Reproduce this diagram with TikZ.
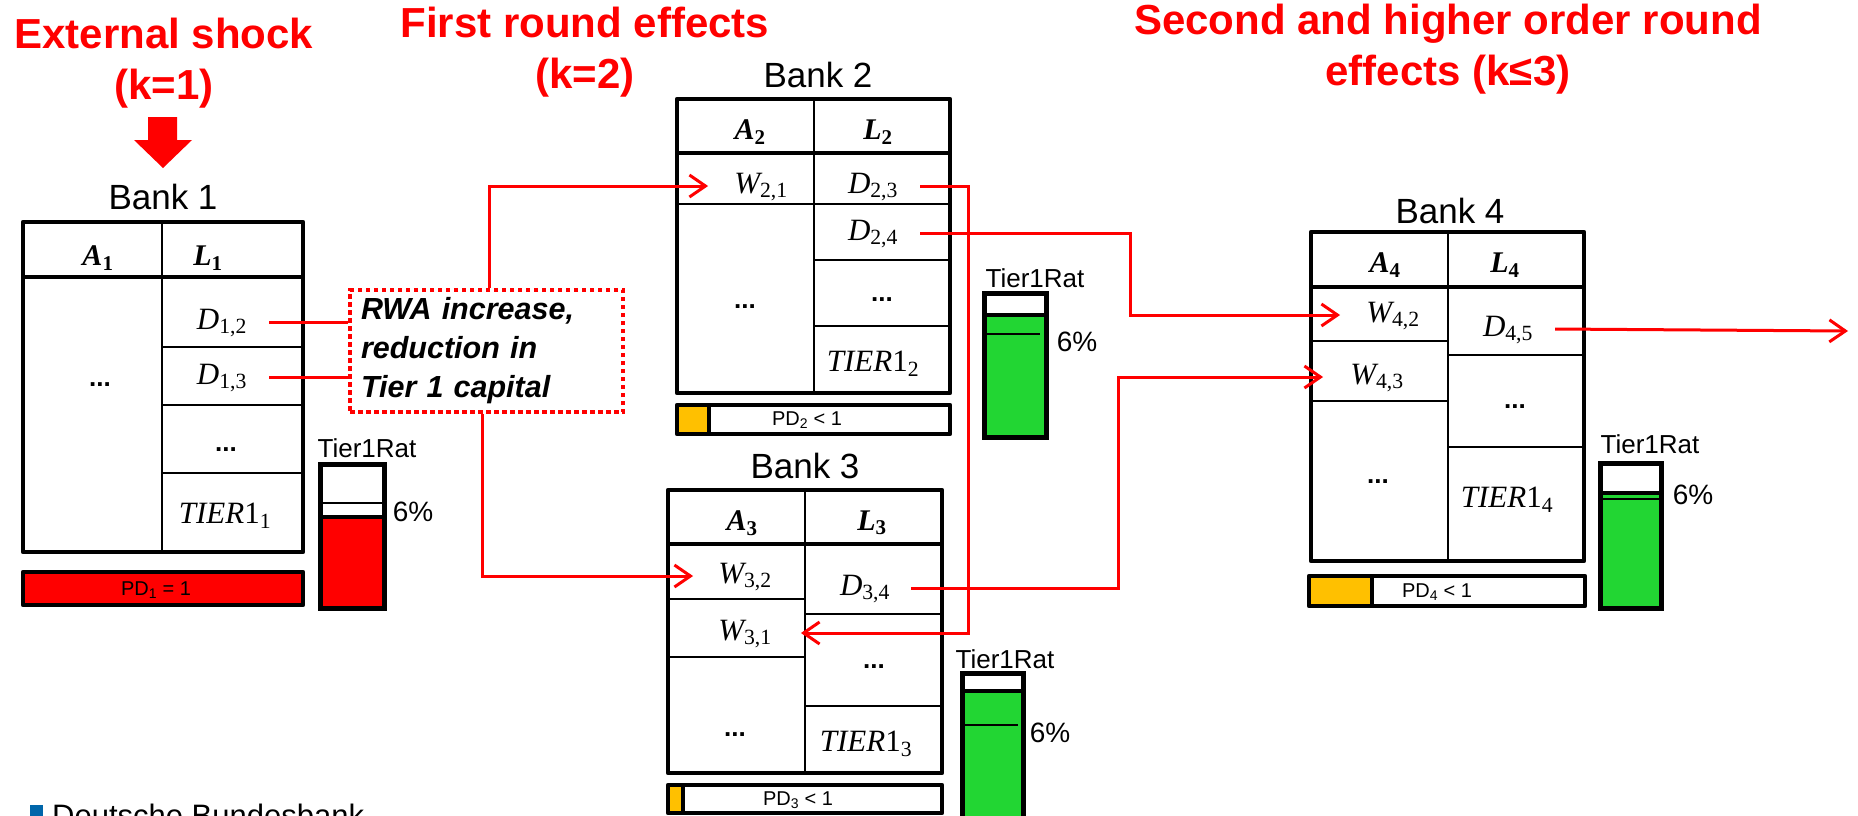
\RequirePackage{fix-cm}
\documentclass[tikz,border=0pt]{standalone}
\usepackage{amsmath}
\usepackage[no-math]{fontspec}
\setmainfont{Liberation Sans}
\newfontfamily\serifm{Liberation Serif}
\usetikzlibrary{arrows.meta}
\definecolor{shockred}{RGB}{255,0,0}
\definecolor{okgreen}{RGB}{34,214,51}
\definecolor{pdorange}{RGB}{255,192,0}
\definecolor{bbblue}{RGB}{0,102,170}
\newcommand{\myfs}[2]{\fontsize{#1pt}{#2pt}\selectfont}
\newcommand{\cv}[2]{$\text{\serifm\itshape #1}_{\text{\serifm #2}}$}
\newcommand{\hv}[2]{$\text{\serifm\bfseries\itshape #1}_{\text{\serifm\bfseries #2}}$}
\newcommand{\tv}[1]{$\text{\serifm\itshape TIER}\text{\serifm 1}_{\text{\serifm #1}}$}
\begin{document}
\begin{tikzpicture}[x=1pt,y=-1pt,
  ttl/.style={text=shockred, font=\myfs{42}{51}\bfseries, align=center, inner sep=0pt, anchor=north},
  bnk/.style={font=\myfs{35}{40}, inner sep=0pt, anchor=base},
  cellm/.style={font=\myfs{31}{34}, inner sep=0pt},
  hdr/.style={font=\myfs{30}{32}, inner sep=0pt},
  dotsx/.style={font=\myfs{26}{28}\bfseries, inner sep=0pt},
  tframe/.style={line width=4.5pt, line join=round},
  hline/.style={line width=4pt},
  rline/.style={line width=2.2pt},
  conn/.style={draw=shockred, line width=3pt, -{Straight Barb[length=16pt,width=22pt]}},
  lnk/.style={draw=shockred, line width=3pt},
  rframe/.style={line width=5pt},
  smalltxt/.style={font=\myfs{26}{28}, inner sep=0pt, anchor=base},
  pcttxt/.style={font=\myfs{28}{30}, inner sep=0pt},
  pdtxt/.style={font=\myfs{20}{22}, inner sep=0pt},
]
\fill[white] (0,0) rectangle (1858,815);
\useasboundingbox (0,0) rectangle (1858,815);

% titles
\node[ttl] (t1) at (164,18) {External shock\\(k=1)};
\node[ttl] (t2) at (585,7) {First round effects\\(k=2)};
\node[ttl] (t3) at (1448,4) {Second and higher order round\\effects (k≤3)};
\fill[shockred] (148,117) -- (177,117) -- (177,140) -- (192,140) -- (163,168) -- (134,140) -- (148,140) -- cycle;

% ---------- Bank 1 ----------
\node[bnk] (b1) at (163,209) {Bank 1};
\draw[rline] (162,222) -- (162,552);
\draw[rline] (162,347) -- (303,347) (162,405) -- (303,405) (162,473) -- (303,473);
\draw[hline] (23,277) -- (303,277);
\draw[tframe] (23,222) rectangle (303,552);
\node[hdr] (a1) at (98,258) {\hv{A}{1}};
\node[hdr] (l1) at (208,258) {\hv{L}{1}};
\node[cellm] (d12) at (222,323) {\cv{D}{1,2}};
\node[cellm] (d13) at (222,378) {\cv{D}{1,3}};
\node[dotsx] (e1r) at (226,450) {...};
\node[cellm] (tier1) at (225,516) {\tv{1}};
\node[dotsx] (e1l) at (100,385) {...};
\fill[shockred] (23,572) rectangle (303,605);
\draw[tframe] (23,572) rectangle (303,605);
\node[pdtxt] (pd1) at (156,590) {PD\textsubscript{1} = 1};
\fill[shockred] (320,517) rectangle (384,608);
\draw[rline] (320,503) -- (384,503);
\draw[hline] (320,517) -- (384,517);
\draw[rframe] (320,464) rectangle (384,608);
\node[smalltxt] (r1) at (367,457) {Tier1Rat};
\node[pcttxt] (p1) at (413,512) {6\%};

% RWA box
\node[draw=shockred, line width=3.5pt, dash pattern=on 4.5pt off 3.5pt,
  minimum width=273pt, minimum height=122pt, inner xsep=11pt, text width=251pt,
  align=left, font=\myfs{30.5}{39}\bfseries\itshape] (rwa) at (486.5,351)
  {RWA increase,\\reduction in\\Tier 1 capital};

% ---------- Bank 2 ----------
\node[bnk] (b2) at (818,87) {Bank 2};
\draw[rline] (814,99) -- (814,393);
\draw[rline] (677,204) -- (950,204) (814,260) -- (950,260) (814,326) -- (950,326);
\draw[hline] (677,153) -- (950,153);
\draw[tframe] (677,99) rectangle (950,393);
\node[hdr] (a2) at (750,132) {\hv{A}{2}};
\node[hdr] (l2) at (878,132) {\hv{L}{2}};
\node[cellm] (w21) at (761,187) {\cv{W}{2,1}};
\node[cellm] (d23) at (873,187) {\cv{D}{2,3}};
\node[cellm] (d24) at (873,234) {\cv{D}{2,4}};
\node[dotsx] (e2r) at (882,300) {...};
\node[dotsx] (e2l) at (745,307) {...};
\node[cellm] (tier2) at (873,364) {\tv{2}};
\fill[pdorange] (677,405) rectangle (709,434);
\draw[hline] (709,405) -- (709,434);
\draw[tframe] (677,405) rectangle (950,434);
\node[pdtxt] (pd2) at (807,420) {PD\textsubscript{2} < 1};
\fill[okgreen] (984,315) rectangle (1046,437);
\draw[rline] (986,334) -- (1040,334);
\draw[hline] (984,315) -- (1046,315);
\draw[rframe] (984,293) rectangle (1046,437);
\node[smalltxt] (r2) at (1035,287) {Tier1Rat};
\node[pcttxt] (p2) at (1077,342) {6\%};

% ---------- Bank 3 ----------
\node[bnk] (b3) at (805,478) {Bank 3};
\draw[rline] (805,490) -- (805,773);
\draw[rline] (668,599) -- (805,599) (668,657) -- (805,657) (805,614) -- (942,614) (805,706) -- (942,706);
\draw[hline] (668,544) -- (942,544);
\draw[tframe] (668,490) rectangle (942,773);
\node[hdr] (a3) at (742,523) {\hv{A}{3}};
\node[hdr] (l3) at (872,523) {\hv{L}{3}};
\node[cellm] (w32) at (745,577) {\cv{W}{3,2}};
\node[cellm] (w31) at (745,634) {\cv{W}{3,1}};
\node[cellm] (d34) at (865,589) {\cv{D}{3,4}};
\node[dotsx] (e3r) at (874,667) {...};
\node[dotsx] (e3l) at (735,735) {...};
\node[cellm] (tier3) at (866,744) {\tv{3}};
\fill[pdorange] (668,785) rectangle (683,813);
\draw[hline] (683,785) -- (683,813);
\draw[tframe] (668,785) rectangle (942,813);
\node[pdtxt] (pd3) at (798,800) {PD\textsubscript{3} < 1};
\fill[okgreen] (962,691) rectangle (1023,850);
\draw[rline] (964,725) -- (1018,725);
\draw[hline] (962,691) -- (1023,691);
\draw[rframe] (962,673) rectangle (1023,850);
\node[smalltxt] (r3) at (1005,668) {Tier1Rat};
\node[pcttxt] (p3) at (1050,733) {6\%};

% ---------- Bank 4 ----------
\node[bnk] (b4) at (1450,223) {Bank 4};
\draw[rline] (1448,232) -- (1448,561);
\draw[rline] (1311,341) -- (1448,341) (1311,401) -- (1448,401) (1448,355) -- (1584,355) (1448,447) -- (1584,447);
\draw[hline] (1311,287) -- (1584,287);
\draw[tframe] (1311,232) rectangle (1584,561);
\node[hdr] (a4) at (1385,265) {\hv{A}{4}};
\node[hdr] (l4) at (1505,265) {\hv{L}{4}};
\node[cellm] (w42) at (1393,316) {\cv{W}{4,2}};
\node[cellm] (w43) at (1377,378) {\cv{W}{4,3}};
\node[cellm] (d45) at (1508,330) {\cv{D}{4,5}};
\node[dotsx] (e4r) at (1515,407) {...};
\node[dotsx] (e4l) at (1378,482) {...};
\node[cellm] (tier4) at (1507,500) {\tv{4}};
\fill[pdorange] (1309,576) rectangle (1372,606);
\draw[hline] (1372,576) -- (1372,606);
\draw[tframe] (1309,576) rectangle (1585,606);
\node[pdtxt] (pd4) at (1437,592) {PD\textsubscript{4} < 1};
\fill[okgreen] (1600,493) rectangle (1661,608);
\draw[rline] (1600,499) -- (1661,499);
\draw[hline] (1600,493) -- (1661,493);
\draw[rframe] (1600,463) rectangle (1661,608);
\node[smalltxt] (r4) at (1650,453) {Tier1Rat};
\node[pcttxt] (p4) at (1693,495) {6\%};

% ---------- connectors ----------
\coordinate (s12) at ([xshift=22pt,yshift=1pt]d12.east);
\coordinate (s13) at ([xshift=22pt,yshift=1pt]d13.east);
\draw[lnk] (s12) -- (s12 -| rwa.west);
\draw[lnk] (s13) -- (s13 -| rwa.west);
\coordinate (t21) at ([xshift=-26pt,yshift=1pt]w21.west);
\coordinate (t32) at ([xshift=-25pt,yshift=1pt]w32.west);
\draw[conn] ([xshift=2.5pt]rwa.north) |- (t21);
\draw[conn] ([xshift=-4.5pt]rwa.south) |- (t32);
\coordinate (s23) at ([xshift=22pt,yshift=1pt]d23.east);
\coordinate (s24) at ([xshift=22pt,yshift=1pt]d24.east);
\coordinate (s34) at ([xshift=21pt,yshift=1pt]d34.east);
\coordinate (s45) at ([xshift=22pt,yshift=1pt]d45.east);
\coordinate (t31) at ([xshift=29pt,yshift=1pt]w31.east);
\coordinate (t42) at ([xshift=-26pt,yshift=1pt]w42.west);
\coordinate (t43) at ([xshift=-27pt,yshift=1pt]w43.west);
\coordinate (k23) at (968,0);
\coordinate (k24) at (1130,0);
\coordinate (k34) at (1118,0);
\coordinate (o45) at (1848,331);
\draw[conn] (s23) -- (s23 -| k23) |- (t31);
\draw[conn] (s24) -- (s24 -| k24) |- (t42);
\draw[conn] (s34) -- (s34 -| k34) |- (t43);
\draw[conn] (s45) -- (o45);

% footer
\fill[bbblue] (30,805) rectangle (43,818);
\node[font=\myfs{31}{34}, anchor=base west, inner sep=0pt] (db) at (52,826) {Deutsche Bundesbank};
\end{tikzpicture}
\end{document}
